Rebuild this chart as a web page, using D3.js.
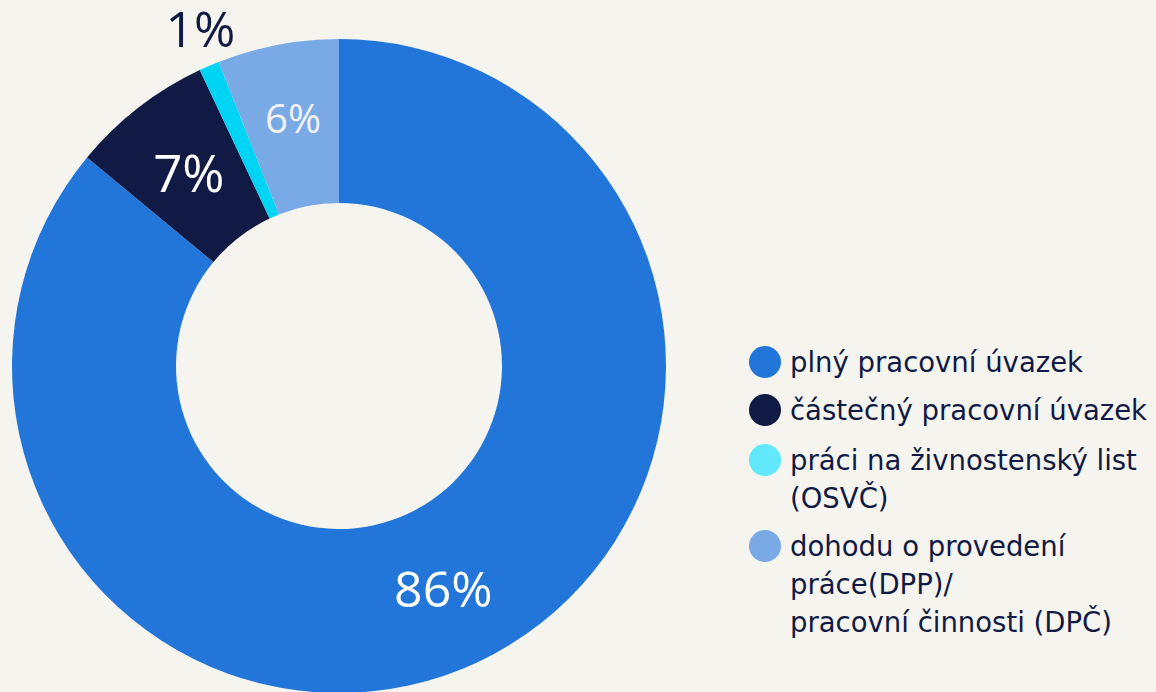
<!DOCTYPE html>
<html>
<head>
<meta charset="utf-8">
<script src="https://cdn.jsdelivr.net/npm/d3@7"></script>
<style>
  body { margin: 0; background: #f5f4ef; }
  svg { display: block; }
  .lbl { font-family: "Open Sans", sans-serif; }
  .legend text { font-family: "DejaVu Sans", sans-serif; fill: #111a44; }
</style>
</head>
<body>
<svg width="1156" height="692"></svg>
<script>
// categories and values (percent)
var categories = ["plný pracovní úvazek", "částečný pracovní úvazek", "práci na živnostenský list (OSVČ)", "dohodu o provedení práce(DPP)/ pracovní činnosti (DPČ)"];
var values = [86, 7, 1, 6];
var labels = ["86%", "7%", "1%", "6%"];
// legend lines (wrapped like the original)
var legendLines = [["plný pracovní úvazek"], ["částečný pracovní úvazek"], ["práci na živnostenský list", "(OSVČ)"], ["dohodu o provedení", "práce(DPP)/", "pracovní činnosti (DPČ)"]];
var colors = ["#2276d9", "#111a44", "#00d4f5", "#7aaae6"];
var legendColors = ["#2276d9", "#111a44", "#61e8fd", "#7aaae6"];

var svg = d3.select("svg"),
    cx = 339, cy = 366,
    outerR = 327, innerR = 163;

var pie = d3.pie().sort(null).value(function(d) { return d; });
var arc = d3.arc().innerRadius(innerR).outerRadius(outerR);
var arcs = pie(values);

var g = svg.append("g").attr("transform", "translate(" + cx + "," + cy + ")");

g.selectAll("path")
    .data(arcs)
    .enter().append("path")
    .attr("d", arc)
    .attr("fill", function(d, i) { return colors[i]; });

// labels: inside at centroid, except the tiny slice which goes above the ring
var sizes = [50, 51, 50, 40];
var fills = ["#ffffff", "#ffffff", "#111a44", "#f2f2f2"];
g.selectAll("text.lbl")
    .data(arcs)
    .enter().append("text")
    .attr("class", "lbl")
    .attr("transform", function(d, i) {
      var c = arc.centroid(d);
      if (i === 2) {
        var a = (d.startAngle + d.endAngle) / 2, r = outerR + 37;
        c = [Math.sin(a) * r + 6, -Math.cos(a) * r - 4];
      }
      if (i === 3) c[1] -= 8;
      return "translate(" + c[0] + "," + c[1] + ")";
    })
    .attr("text-anchor", "middle")
    .attr("dominant-baseline", "central")
    .style("font-size", function(d, i) { return sizes[i] + "px"; })
    .attr("fill", function(d, i) { return fills[i]; })
    .text(function(d, i) { return labels[i]; });

// legend
var legendY = [362, 410, 460, 546];
var lineH = 38;
var legend = svg.append("g").attr("class", "legend");
var items = legend.selectAll("g")
    .data(categories)
    .enter().append("g")
    .attr("transform", function(d, i) { return "translate(765," + legendY[i] + ")"; });

items.append("circle")
    .attr("r", 16)
    .attr("fill", function(d, i) { return legendColors[i]; });

items.each(function(d, i) {
  var t = d3.select(this).append("text")
      .attr("x", 25)
      .attr("y", 0)
      .attr("dominant-baseline", "central")
      .style("font-size", "27.5px");
  legendLines[i].forEach(function(line, j) {
    t.append("tspan").attr("x", 25).attr("y", j * lineH).text(line);
  });
});
</script>
</body>
</html>
